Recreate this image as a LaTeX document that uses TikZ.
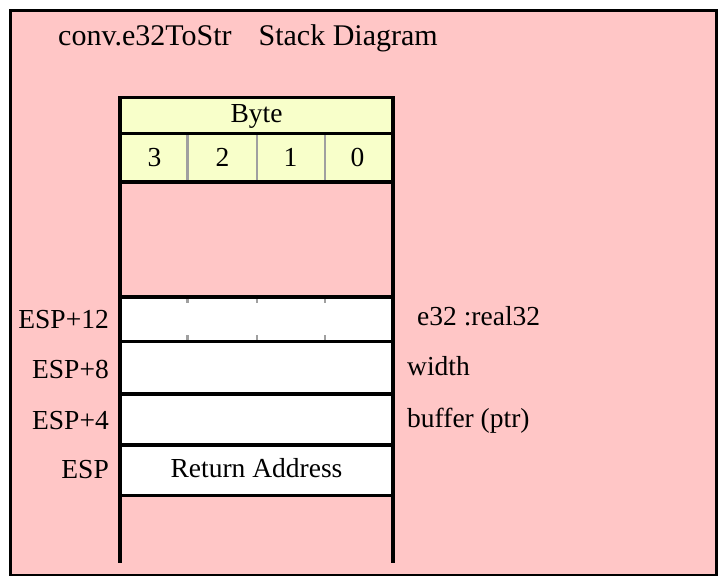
\documentclass[tikz,border=0pt]{standalone}
\usepackage{fontspec}
\setmainfont{Liberation Serif}
\definecolor{pinkbg}{RGB}{255,198,198}
\definecolor{yel}{RGB}{248,255,202}
\definecolor{divgray}{RGB}{160,160,160}
\tikzset{
  blk/.style={line width=3.2pt, black},
  divline/.style={line width=2.4pt, divgray},
  txt/.style={inner sep=0pt, font=\fontsize{27.5}{30}\selectfont},
  lab/.style={txt, anchor=base east},
  rlab/.style={txt, anchor=base west},
  ctr/.style={txt, anchor=base},
}
\begin{document}
\begin{tikzpicture}[x=1pt,y=-1pt]
\useasboundingbox (0,0) rectangle (718,576);
% outer frame
\draw[blk, fill=pinkbg, line width=3pt] (10.7,10.5) rectangle (716.5,575.5);
\node[inner sep=0pt, anchor=base west, font=\fontsize{30}{34}\selectfont] (title) at (58,45) {conv.e32ToStr\hspace{0.9em}Stack Diagram};
% header
\fill[yel] (120,97.5) rectangle (393,182);
\foreach \x in {187.5,257,325} \draw[divline] (\x,133.5) -- (\x,182);
\node[ctr] (byte) at (256.5,122.7) {Byte};
\node[ctr] (b3) at (154.5,166) {3};
\node[ctr] (b2) at (222.5,166) {2};
\node[ctr] (b1) at (290.5,166) {1};
\node[ctr] (b0) at (357.5,166) {0};
% white rows
\fill[white] (120,297) rectangle (393,495.7);
\foreach \x in {187.5,257,325} {
  \draw[divline] (\x,297) -- (\x,303);
  \draw[divline] (\x,335) -- (\x,341);
}
% horizontal lines
\foreach \y in {97.5,133.5,182,297,341.5,394,445,495.7} \draw[blk] (118.4,\y) -- (394.6,\y);
% vertical lines
\draw[blk] (120,96) -- (120,562.7);
\draw[blk] (393,96) -- (393,562.7);
% row texts
\node[ctr] (ret) at (256.5,477.5) {Return Address};
\node[lab] (l12) at (109,328) {ESP+12};
\node[lab] (l8) at (109,378) {ESP+8};
\node[lab] (l4) at (109,429) {ESP+4};
\node[lab] (l0) at (109,478) {ESP};
\node[rlab] (r1) at (417,325) {e32 :real32};
\node[rlab] (r2) at (407,375) {width};
\node[rlab] (r3) at (407,427) {buffer (ptr)};
\end{tikzpicture}
\end{document}
